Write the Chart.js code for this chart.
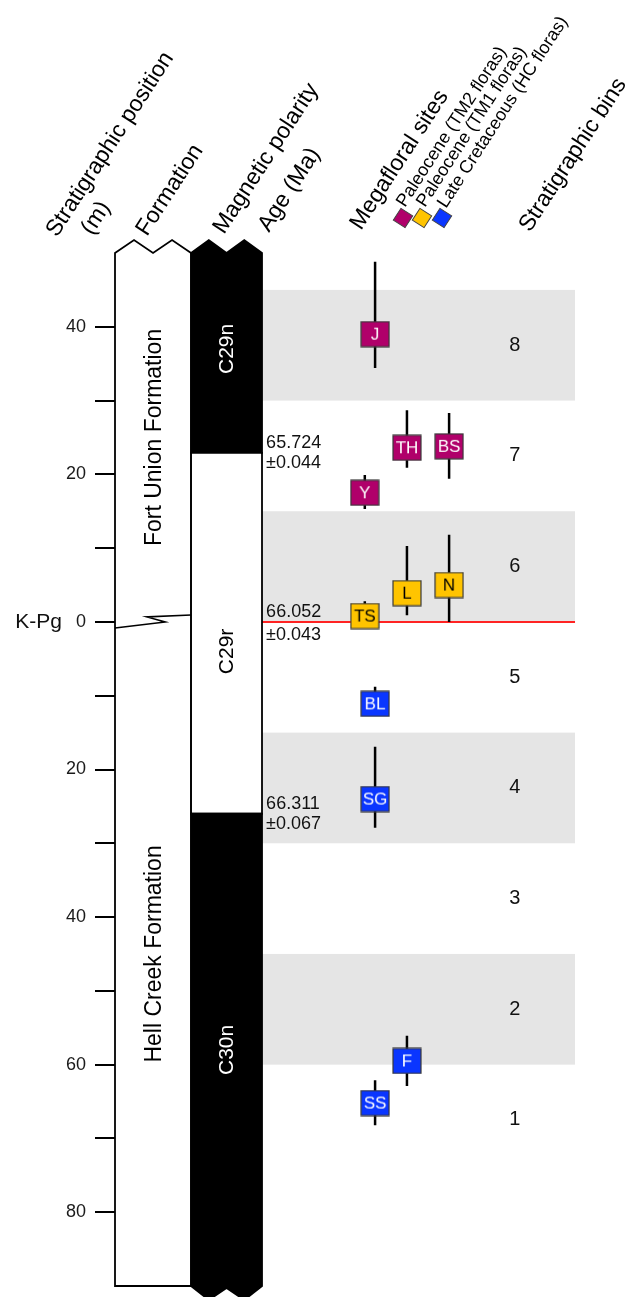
<!DOCTYPE html>
<html>
<head>
<meta charset="utf-8">
<script src="https://cdn.jsdelivr.net/npm/chart.js@4.4.0/dist/chart.umd.min.js"></script>
<style>
  html, body { margin: 0; padding: 0; background: #fff; }
  #wrap { width: 629px; height: 1297px; }
</style>
</head>
<body>
<div id="wrap"><canvas id="strat" width="629" height="1297"></canvas></div>
<script>
// stratigraphic position in metres, relative to the K-Pg boundary
const depthTicks = [40, 30, 20, 10, 0, -10, -20, -30, -40, -50, -60, -70, -80];
const columnTop = 50;
const columnBase = -90;
const kpgDepth = 0;

const formationNames = ["Fort Union Formation", "Hell Creek Formation"];
const formationTop = [50, 0];
const formationBase = [0, -90];

const chronNames = ["C29n", "C29r", "C30n"];
const chronTop = [50, 22.9, -26];
const chronBase = [22.9, -26, -90];
const chronNormal = [true, false, true];
const chronLabelAt = [37, -4, -58];

const ageValues = ["65.724", "66.052", "66.311"];
const ageErrors = ["±0.044", "±0.043", "±0.067"];
const ageDepths = [22.9, 0, -26];

const binNames = ["1", "2", "3", "4", "5", "6", "7", "8"];
const binBase = [-75, -60, -45, -30, -15, 0, 15, 30];
const binTop = [-60, -45, -30, -15, 0, 15, 30, 45];

const siteNames = ["J", "TH", "BS", "Y", "TS", "L", "N", "BL", "SG", "F", "SS"];
const siteGroups = ["TM2", "TM2", "TM2", "TM2", "TM1", "TM1", "TM1", "HC", "HC", "HC", "HC"];
const siteLane = [5.06, 5.68, 6.5, 4.86, 4.86, 5.68, 6.5, 5.06, 5.06, 5.68, 5.06];
const siteDepth = [39.0, 23.6, 23.8, 17.5, 0.8, 3.9, 5.0, -11.1, -24.0, -59.5, -65.2];
const siteHigh = [48.8, 28.7, 28.3, 19.9, 2.8, 10.3, 11.8, -8.8, -16.9, -56.1, -62.1];
const siteLow = [34.4, 20.9, 19.4, 15.3, 0, 0.9, 0, -12, -27.9, -62.9, -68.2];

const groupKeys = ["TM2", "TM1", "HC"];
const groupLabels = ["Paleocene (TM2 floras)", "Paleocene (TM1 floras)", "Late Cretaceous (HC floras)"];
const groupColors = ["#B0006A", "#FFC400", "#0A36FF"];
const groupInk = ["#ffffff", "#000000", "#ffffff"];

// x layout (hidden linear axis, 0..10)
const FM_X0 = 0, FM_X1 = 1.48, POL_X1 = 2.86, BAND_X1 = 8.95, AGE_X = 2.94, BIN_LABEL_X = 7.78;
const FONT = "'Liberation Sans', Arial, Helvetica, sans-serif";

function siteMarker(i) {
    const g = groupKeys.indexOf(siteGroups[i]);
    const c = document.createElement("canvas");
    c.width = 30;
    c.height = 27;
    const m = c.getContext("2d");
    m.fillStyle = groupColors[g];
    m.fillRect(1, 1, 28, 25);
    m.strokeStyle = "#3a3a3a";
    m.lineWidth = 1.2;
    m.strokeRect(1, 1, 28, 25);
    m.fillStyle = groupInk[g];
    m.font = "17px " + FONT;
    m.textAlign = "center";
    m.textBaseline = "middle";
    m.fillText(siteNames[i], 15, 14.5);
    return c;
}

const markerData = siteNames.map((n, i) => ({ x: siteLane[i], y: siteDepth[i] }));
const rangeData = [];
siteNames.forEach((n, i) => {
    rangeData.push({ x: siteLane[i], y: siteHigh[i] }, { x: siteLane[i], y: siteLow[i] }, { x: siteLane[i], y: null });
});

function rotText(ctx, text, x, y, deg, font, color) {
    ctx.save();
    ctx.translate(x, y);
    ctx.rotate(-deg * Math.PI / 180);
    ctx.font = font;
    ctx.fillStyle = color || "#000";
    ctx.textAlign = "left";
    ctx.textBaseline = "alphabetic";
    ctx.fillText(text, 0, 0);
    ctx.restore();
}

const stratPlugin = {
    id: "stratColumn",
    beforeDatasetsDraw(chart) {
        const ctx = chart.ctx, xs = chart.scales.x, ys = chart.scales.y;
        const bx0 = xs.getPixelForValue(POL_X1), bx1 = xs.getPixelForValue(BAND_X1);
        ctx.save();
        binNames.forEach((b, i) => {
            const t = ys.getPixelForValue(binTop[i]), btm = ys.getPixelForValue(binBase[i]);
            if (i % 2 === 1) {
                ctx.fillStyle = "#e5e5e5";
                ctx.fillRect(bx0, t, bx1 - bx0, btm - t);
            }
            ctx.fillStyle = "#111";
            ctx.font = "20px " + FONT;
            ctx.textAlign = "center";
            ctx.textBaseline = "middle";
            ctx.fillText(b, xs.getPixelForValue(BIN_LABEL_X), (t + btm) / 2);
        });
        ctx.restore();
    },
    afterDraw(chart) {
        const ctx = chart.ctx, xs = chart.scales.x, ys = chart.scales.y;
        const fx0 = xs.getPixelForValue(FM_X0), fx1 = xs.getPixelForValue(FM_X1);
        const px1 = xs.getPixelForValue(POL_X1);
        const yTop = ys.getPixelForValue(columnTop), yBot = ys.getPixelForValue(columnBase);
        const fw = fx1 - fx0, pw = px1 - fx1;
        ctx.save();
        ctx.lineWidth = 1.8;
        ctx.strokeStyle = "#000";
        ctx.lineJoin = "miter";

        // formation column
        ctx.beginPath();
        ctx.moveTo(fx0, yBot);
        ctx.lineTo(fx0, yTop);
        ctx.lineTo(fx0 + fw / 4, yTop - 13);
        ctx.lineTo(fx0 + fw / 2, yTop);
        ctx.lineTo(fx0 + 3 * fw / 4, yTop - 13);
        ctx.lineTo(fx1, yTop);
        ctx.lineTo(fx1, yBot);
        ctx.closePath();
        ctx.fillStyle = "#fff";
        ctx.fill();
        ctx.stroke();

        // unconformable contact at the K-Pg
        const yk = ys.getPixelForValue(kpgDepth);
        ctx.beginPath();
        ctx.moveTo(fx0, yk + 6);
        ctx.lineTo(fx0 + 0.66 * fw, yk);
        ctx.lineTo(fx0 + 0.42 * fw, yk - 5);
        ctx.lineTo(fx1, yk - 7);
        ctx.lineWidth = 1.6;
        ctx.stroke();
        ctx.lineWidth = 1.8;

        // magnetic polarity column
        chronNames.forEach((c, i) => {
            const t = ys.getPixelForValue(chronTop[i]), b = ys.getPixelForValue(chronBase[i]);
            ctx.beginPath();
            ctx.moveTo(fx1, t);
            if (i === 0) {
                ctx.lineTo(fx1 + pw / 4, t - 13);
                ctx.lineTo(fx1 + pw / 2, t);
                ctx.lineTo(fx1 + 3 * pw / 4, t - 13);
            }
            ctx.lineTo(px1, t);
            ctx.lineTo(px1, b);
            if (i === chronNames.length - 1) {
                ctx.lineTo(fx1 + 3 * pw / 4, b + 14);
                ctx.lineTo(fx1 + pw / 2, b + 2);
                ctx.lineTo(fx1 + pw / 4, b + 14);
            }
            ctx.lineTo(fx1, b);
            ctx.closePath();
            ctx.fillStyle = chronNormal[i] ? "#000" : "#fff";
            ctx.fill();
            ctx.stroke();
        });

        // column labels
        const vText = (text, x, y, size, color) => {
            ctx.save();
            ctx.translate(x, y);
            ctx.rotate(-Math.PI / 2);
            ctx.font = size + "px " + FONT;
            ctx.fillStyle = color;
            ctx.textAlign = "center";
            ctx.textBaseline = "middle";
            ctx.fillText(text, 0, 0);
            ctx.restore();
        };
        formationNames.forEach((f, i) => {
            vText(f, (fx0 + fx1) / 2 + 2, ys.getPixelForValue((formationTop[i] + formationBase[i]) / 2), 23, "#000");
        });
        chronNames.forEach((c, i) => {
            vText(c, (fx1 + px1) / 2 + 1, ys.getPixelForValue(chronLabelAt[i]), 21, chronNormal[i] ? "#fff" : "#000");
        });

        // radiometric ages
        ctx.font = "18px " + FONT;
        ctx.fillStyle = "#111";
        ctx.textAlign = "left";
        ctx.textBaseline = "alphabetic";
        ageValues.forEach((a, i) => {
            const yb = ys.getPixelForValue(ageDepths[i]);
            ctx.fillText(a, xs.getPixelForValue(AGE_X), yb - 5);
            ctx.fillText(ageErrors[i], xs.getPixelForValue(AGE_X), yb + (ageDepths[i] === kpgDepth ? 18 : 15));
        });

        // K-Pg label
        ctx.font = "21px " + FONT;
        ctx.textAlign = "right";
        ctx.textBaseline = "middle";
        ctx.fillText("K-Pg", 62, yk);

        // rotated headers
        const ang = 57;
        const hf = "23px " + FONT;
        rotText(ctx, "Stratigraphic position", 57, 238, ang, hf);
        rotText(ctx, "(m)", 92, 236, ang, hf);
        rotText(ctx, "Formation", 147, 237, ang, hf);
        rotText(ctx, "Magnetic polarity", 224, 235, ang, hf);
        rotText(ctx, "Age (Ma)", 269, 233, ang, hf);
        rotText(ctx, "Megafloral sites", 361, 231, ang, hf);
        rotText(ctx, "Stratigraphic bins", 530, 233, ang, hf);

        // legend
        const lf = "18px " + FONT;
        const legendAnchors = [[405, 208], [425, 208], [446, 209]];
        const swatches = [[403, 218], [422, 218], [442, 218]];
        groupLabels.forEach((g, i) => {
            ctx.save();
            ctx.translate(swatches[i][0], swatches[i][1]);
            ctx.rotate(-ang * Math.PI / 180);
            ctx.fillStyle = groupColors[i];
            ctx.fillRect(-7, -7, 14, 14);
            ctx.strokeStyle = "#444";
            ctx.lineWidth = 1;
            ctx.strokeRect(-7, -7, 14, 14);
            ctx.restore();
            rotText(ctx, g, legendAnchors[i][0], legendAnchors[i][1], ang, lf);
        });
        ctx.restore();
    }
};

new Chart(document.getElementById("strat").getContext("2d"), {
    type: "scatter",
    data: {
        datasets: [
            {
                label: "Megafloral sites",
                data: markerData,
                pointStyle: siteNames.map((n, i) => siteMarker(i)),
                pointRadius: 12,
                showLine: false,
            },
            {
                type: "line",
                label: "Stratigraphic range",
                data: rangeData,
                borderColor: "#000",
                borderWidth: 2.5,
                pointRadius: 0,
                showLine: true,
                spanGaps: false,
                tension: 0,
            },
            {
                type: "line",
                label: "K-Pg boundary",
                data: [{ x: POL_X1, y: kpgDepth }, { x: BAND_X1, y: kpgDepth }],
                borderColor: "#ff2323",
                borderWidth: 2,
                pointRadius: 0,
                showLine: true,
            },
        ],
    },
    options: {
        responsive: false,
        animation: false,
        events: [],
        layout: { autoPadding: false, padding: { top: 253, bottom: 11, left: 0, right: 0 } },
        plugins: {
            legend: { display: false },
            tooltip: { enabled: false },
        },
        scales: {
            x: { type: "linear", min: 0, max: 10, display: false },
            y: {
                type: "linear",
                min: columnBase,
                max: columnTop,
                afterFit: (s) => {
                    s.width = 115;
                    s.paddingTop = 0;
                    s.paddingBottom = 0;
                },
                afterBuildTicks: (s) => { s.ticks = depthTicks.map((v) => ({ value: v })); },
                ticks: {
                    autoSkip: false,
                    padding: 9,
                    color: "#1a1a1a",
                    font: { size: 18, family: FONT },
                    callback: (v) => (v % 20 === 0 ? String(Math.abs(v)) : ""),
                },
                grid: { drawOnChartArea: false, drawTicks: true, tickLength: 20, color: "#000", lineWidth: 2 },
                border: { display: false },
            },
        },
    },
    plugins: [stratPlugin],
});
</script>
</body>
</html>
